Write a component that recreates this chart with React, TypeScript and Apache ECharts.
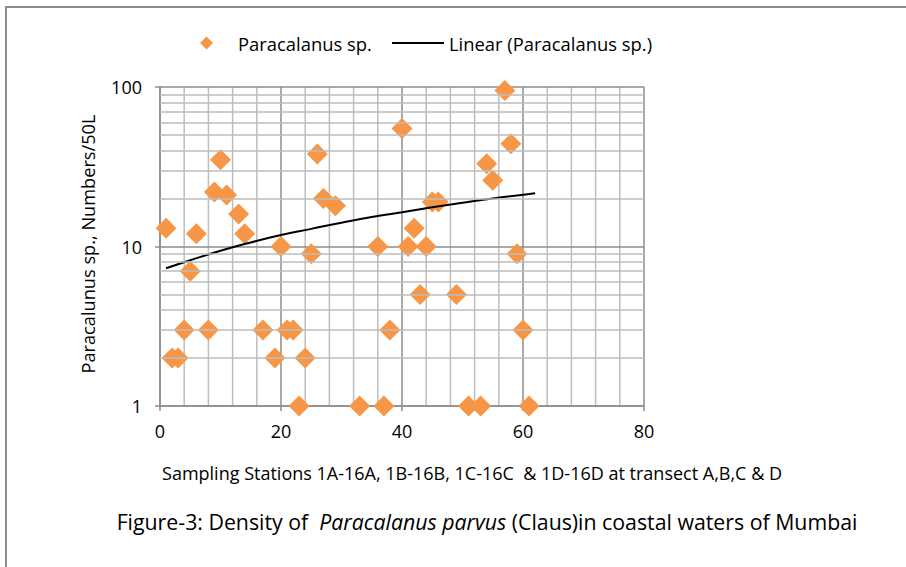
import React, { useEffect, useRef } from "react";
import * as echarts from "echarts";

const stations = [1, 2, 3, 4, 5, 6, 8, 9, 10, 11, 13, 14, 17, 19, 20, 21, 22, 23, 24, 25, 26, 27, 29, 33, 36, 37, 38, 40, 41, 42, 43, 44, 45, 46, 49, 51, 53, 54, 55, 57, 58, 59, 60, 61];
const densities = [13, 2, 2, 3, 7, 12, 3, 22, 35, 21, 16, 12, 3, 2, 10, 3, 3, 1, 2, 9, 38, 20, 18, 1, 10, 1, 3, 55, 10, 13, 5, 10, 19, 19, 5, 1, 1, 33, 26, 95, 44, 9, 3, 1];

const trendX = [1, 5, 10, 15, 20, 25, 30, 35, 40, 45, 50, 55, 62];
const trendY = [7.3, 8.2, 9.4, 10.6, 11.8, 12.9, 14.1, 15.3, 16.4, 17.6, 18.8, 20.0, 21.6];

const minorYLines = [2, 3, 4, 5, 6, 7, 8, 9, 20, 30, 40, 50, 60, 70, 80, 90];
const minorXLines = [4, 8, 12, 16, 24, 28, 32, 36, 44, 48, 52, 56, 64, 68, 72, 76];
const yTicks = [1, 10, 100];
const yMin = 1;
const yMax = 100;

const FONT = "Open Sans";

export default function App() {
  const ref = useRef<HTMLDivElement>(null);
  useEffect(() => {
    if (!ref.current) return;
    const chart = echarts.init(ref.current, undefined, { renderer: "svg" });
    const scatterData = stations.map((s, i) => [s, densities[i]]);
    const trendData = trendX.map((x, i) => [x, trendY[i]]);
    chart.setOption({
      animation: false,
      backgroundColor: "#ffffff",
      textStyle: { fontFamily: FONT },
      grid: { left: 160, top: 87, width: 484, height: 319, containLabel: false },
      legend: [
        {
          data: [{ name: "Paracalanus sp.", icon: "diamond" }],
          left: 200,
          top: 34,
          padding: 0,
          itemWidth: 13,
          itemHeight: 13,
          textStyle: { fontFamily: FONT, fontSize: 18.4, color: "#000", padding: [0, 0, 0, 20] },
          selectedMode: false,
        },
        {
          data: [{ name: "Linear (Paracalanus sp.)", icon: "rect", itemStyle: { color: "#000" } }],
          left: 392,
          top: 34,
          padding: 0,
          itemWidth: 52,
          itemHeight: 2,
          textStyle: { fontFamily: FONT, fontSize: 18.4, color: "#000", padding: [0, 0, 0, 0] },
          selectedMode: false,
        },
      ],
      xAxis: {
        type: "value",
        min: 0,
        max: 80,
        interval: 20,
        z: 1,
        axisLine: { show: true, onZero: false, lineStyle: { color: "#8c8c8c", width: 1.5 } },
        axisTick: { show: true, length: 5, lineStyle: { color: "#8c8c8c", width: 1.5 } },
        axisLabel: { fontFamily: FONT, fontSize: 18, color: "#000", margin: 16 },
        splitLine: { show: true, lineStyle: { color: "#8c8c8c", width: 1.5 } },
      },
      yAxis: {
        type: "log",
        logBase: 10,
        min: yMin,
        max: yMax,
        z: 1,
        axisLine: { show: true, lineStyle: { color: "#8c8c8c", width: 1.5 } },
        axisTick: { show: true, length: 5, lineStyle: { color: "#8c8c8c", width: 1.5 } },
        axisLabel: { fontFamily: FONT, fontSize: 18, color: "#000", margin: 18,
          formatter: (v: number) => (yTicks.includes(Math.round(v)) ? String(Math.round(v)) : "") },
        splitLine: { show: true, lineStyle: { color: "#8c8c8c", width: 1.5 } },
      },
      series: [
        {
          name: "grid-minor",
          type: "line",
          data: [],
          silent: true,
          z: 0,
          markLine: {
            silent: true,
            symbol: "none",
            label: { show: false },
            lineStyle: { color: "#bdbdbd", width: 1.5, type: "solid" },
            emphasis: { disabled: true },
            data: minorYLines.map((v) => ({ yAxis: v })),
          },
        },
        {
          name: "grid-minor-x",
          type: "custom",
          silent: true,
          z: 0,
          encode: { x: 0, y: 1 },
          data: minorXLines.map((v) => [v, 10]),
          renderItem: (params: any, api: any) => {
            const xv = api.value(0);
            const top = api.coord([xv, yMax]);
            const bot = api.coord([xv, yMin]);
            return {
              type: "line",
              shape: { x1: top[0], y1: top[1], x2: bot[0], y2: bot[1] },
              style: { stroke: "#bdbdbd", lineWidth: 1.5 },
            };
          },
        },
        {
          name: "Paracalanus sp.",
          type: "scatter",
          symbol: "diamond",
          symbolSize: 21,
          itemStyle: { color: "#F79646", opacity: 1 },
          data: scatterData,
          z: 3,
        },
        {
          name: "Linear (Paracalanus sp.)",
          type: "line",
          symbol: "none",
          smooth: true,
          lineStyle: { color: "#000", width: 2 },
          itemStyle: { color: "#000" },
          data: trendData,
          z: 4,
        },
      ],
      graphic: [
        {
          type: "rect",
          shape: { x: 6, y: 7, width: 1200, height: 1200 },
          style: { fill: "none", stroke: "#8c8c8c", lineWidth: 2 },
          silent: true,
          z: -1,
        },
        {
          type: "text",
          x: 88,
          y: 244,
          rotation: Math.PI / 2,
          style: {
            text: "Paracalunus sp., Numbers/50L",
            fontFamily: FONT,
            fontSize: 18.2,
            fill: "#000",
            align: "center",
            verticalAlign: "middle",
          },
        },
        {
          type: "text",
          x: 472,
          y: 473,
          style: {
            text: "Sampling Stations 1A-16A, 1B-16B, 1C-16C  & 1D-16D at transect A,B,C & D",
            fontFamily: FONT,
            fontSize: 18,
            fill: "#000",
            align: "center",
            verticalAlign: "middle",
          },
        },
        {
          type: "text",
          x: 487,
          y: 521,
          style: {
            text: "{n|Figure-3: Density of  }{i|Paracalanus parvus}{n| (Claus)in coastal waters of Mumbai}",
            align: "center",
            verticalAlign: "middle",
            rich: {
              n: { fontFamily: FONT, fontSize: 21.3, fill: "#000" },
              i: { fontFamily: FONT, fontSize: 21.3, fontStyle: "italic", fill: "#000" },
            },
          },
        },
      ],
    });
    return () => chart.dispose();
  }, []);
  return (
    <div
      ref={ref}
      style={{ position: "fixed", left: 0, top: 0, width: 906, height: 567, background: "#fff" }}
    />
  );
}
